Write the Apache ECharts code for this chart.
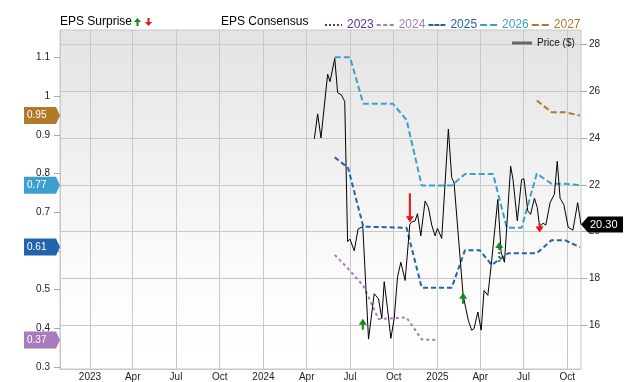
<!DOCTYPE html>
<html>
<head>
<meta charset="utf-8">
<script src="https://cdn.jsdelivr.net/npm/echarts@6/dist/echarts.min.js"></script>
<style>html,body{margin:0;padding:0;background:#fff}#c{width:640px;height:382px}</style>
</head>
<body>
<div id="c"></div>
<script>
// ---------------- data ----------------
const xTickDates = ['2023-01-01','2023-04-01','2023-07-01','2023-10-01','2024-01-01','2024-04-01','2024-07-01','2024-10-01','2025-01-01','2025-04-01','2025-07-01','2025-10-01'];
const xTickLabels = ['2023','Apr','Jul','Oct','2024','Apr','Jul','Oct','2025','Apr','Jul','Oct'];
const leftTicks = [0.3,0.4,0.5,0.6,0.7,0.8,0.9,1.0,1.1];
const rightTicks = [16,18,20,22,24,26,28];

const priceDates = ['2024-04-17','2024-04-24','2024-05-01','2024-05-15','2024-05-20','2024-05-30','2024-06-05','2024-06-13','2024-06-20','2024-06-26',
  '2024-07-01','2024-07-10','2024-07-18','2024-07-28','2024-08-09','2024-08-21','2024-08-30','2024-09-06','2024-09-11','2024-09-18',
  '2024-09-25','2024-10-02','2024-10-09','2024-10-16','2024-10-25','2024-11-04','2024-11-08','2024-11-15','2024-11-20','2024-11-27',
  '2024-12-06','2024-12-13','2024-12-20','2024-12-27','2025-01-01','2025-01-10','2025-01-24','2025-01-31','2025-02-05','2025-02-24',
  '2025-03-07','2025-03-14','2025-03-19','2025-03-27','2025-04-03','2025-04-09','2025-04-17','2025-04-24','2025-05-08','2025-05-15',
  '2025-05-22','2025-06-04','2025-06-09','2025-06-18','2025-06-27','2025-07-02','2025-07-10','2025-07-16','2025-07-24','2025-07-30',
  '2025-08-04','2025-08-11','2025-08-17','2025-08-26','2025-09-04','2025-09-10','2025-09-16','2025-09-24','2025-10-03','2025-10-13',
  '2025-10-23','2025-10-30'];
const priceValues = [23.97,25.04,24.01,26.74,26.42,27.41,25.95,25.85,25.57,19.57,
  19.68,19.18,20.11,20.22,15.40,17.34,17.13,16.28,17.86,16.70,
  15.43,16.28,18.05,18.69,17.91,20.32,20.42,20.46,20.77,19.82,
  21.31,21.03,20.28,19.82,20.14,19.71,24.39,22.31,22.09,17.27,
  16.20,15.78,15.85,16.56,15.78,17.48,17.27,18.54,21.38,19.11,
  18.69,22.80,22.23,20.46,22.23,22.26,20.89,20.74,21.43,21.03,
  20.19,20.36,20.28,21.24,21.60,23.01,21.43,21.15,20.19,20.06,
  21.24,20.30];

const years = ['2023','2024','2025','2026','2027'];
const c2023Dates = [];
const c2023Values = [];
const c2024Dates = ['2024-05-30','2024-06-28','2024-07-29','2024-08-30','2024-09-30','2024-10-28','2024-11-29','2024-12-30'];
const c2024Values = [0.59,0.553,0.51,0.424,0.426,0.428,0.371,0.37];
const c2025Dates = ['2024-05-30','2024-06-27','2024-07-29','2024-10-28','2024-11-29','2025-01-31','2025-02-28','2025-03-31','2025-04-25','2025-05-30','2025-07-29','2025-08-29','2025-09-26','2025-10-28'];
const c2025Values = [0.842,0.815,0.663,0.66,0.505,0.505,0.602,0.602,0.564,0.594,0.594,0.628,0.628,0.61];
const c2026Dates = ['2024-05-30','2024-07-01','2024-07-29','2024-09-29','2024-10-28','2024-11-29','2025-01-31','2025-02-28','2025-04-28','2025-05-27','2025-06-27','2025-07-29','2025-08-29','2025-09-26','2025-10-28'];
const c2026Values = [1.101,1.101,0.981,0.981,0.939,0.769,0.769,0.799,0.799,0.66,0.66,0.80,0.774,0.774,0.77];
const c2027Dates = ['2025-07-29','2025-08-29','2025-09-26','2025-10-28'];
const c2027Values = [0.989,0.959,0.959,0.95];

const surpriseDates = ['2024-07-28','2024-11-04','2025-02-24','2025-05-11','2025-08-04'];
const surprisePrice = [16.04,21.02,17.15,19.13,20.15];
const surpriseDir = ['up','down','up','up','down'];

// ---------------- styles ----------------
const FONT = '"Liberation Sans", Arial, sans-serif';
const yearColors = {'2023':'#5e3486','2024':'#a77bbd','2025':'#2263ae','2026':'#3c9fcd','2027':'#b07a2a'};
const yearDash = {'2023':[2,2],'2024':[3,3],'2025':[5,3],'2026':[6,3],'2027':[6,3]};
const yearIcon = {
  '2023': 'path://M0,0h2v2h-2Z M4,0h2v2h-2Z M8,0h2v2h-2Z M12,0h2v2h-2Z M16,0h1v2h-1Z',
  '2024': 'path://M0,0h4v2h-4Z M6.5,0h4v2h-4Z M13,0h4v2h-4Z',
  '2025': 'path://M0,0h5v2h-5Z M6,0h5v2h-5Z M12,0h5v2h-5Z',
  '2026': 'path://M0,0h7v2h-7Z M10,0h7v2h-7Z',
  '2027': 'path://M0,0h7v2h-7Z M10,0h7v2h-7Z'
};
const arrowLen = [11,29,11,20,9];
const arrowDashed = [false,false,false,true,false];

const ts = s => { const p = s.split('-').map(Number); return new Date(p[0], p[1]-1, p[2]).getTime(); };
const zip = (d, v) => d.map((x, i) => [ts(x), v[i]]);
const xTickTs = xTickDates.map(ts);
const labelFor = v => { let best = 0, bd = Infinity; xTickTs.forEach((t, i) => { const dd = Math.abs(t - v); if (dd < bd) { bd = dd; best = i; } }); return bd < 86400000 ? xTickLabels[best] : ''; };
const xMin = ts('2022-10-30'), xMax = ts('2025-10-30');

const consensus = {
  '2023': zip(c2023Dates, c2023Values), '2024': zip(c2024Dates, c2024Values),
  '2025': zip(c2025Dates, c2025Values), '2026': zip(c2026Dates, c2026Values),
  '2027': zip(c2027Dates, c2027Values)
};

function arrowPath(h, up, dashed) {
  if (up) {
    let p = `path://M4,0 L8,6 L5,6 L5,${dashed ? 8 : h} L3,${dashed ? 8 : h} L3,6 L0,6 Z`;
    if (dashed) { for (let y = 10; y < h; y += 4) p += ` M3,${y} h2 v${Math.min(2, h - y)} h-2 Z`; }
    return p;
  }
  return `path://M3,0 L5,0 L5,${h-6} L8,${h-6} L4,${h} L0,${h-6} L3,${h-6} Z`;
}

const series = [];
series.push({
  name: 'Price ($)', type: 'line', yAxisIndex: 1, symbol: 'none', z: 3,
  lineStyle: {color: '#000', width: 1}, itemStyle: {color: '#000'},
  data: zip(priceDates, priceValues)
});
years.forEach(y => {
  series.push({
    name: y, type: 'line', yAxisIndex: 0, symbol: 'none', z: 2,
    lineStyle: {color: yearColors[y], width: 2, type: yearDash[y]},
    itemStyle: {color: yearColors[y]},
    data: consensus[y]
  });
});
series.push({
  name: 'surprise', type: 'scatter', yAxisIndex: 1, z: 5, clip: false,
  data: surpriseDates.map((d, i) => ({
    value: [ts(d), surprisePrice[i]],
    symbol: arrowPath(arrowLen[i], surpriseDir[i] === 'up', arrowDashed[i]),
    symbolSize: [8, arrowLen[i]],
    itemStyle: {color: surpriseDir[i] === 'up' ? '#14861a' : '#f01010', opacity: 1}
  }))
});
const tagYears = ['2027','2026','2025','2024'];
series.push({
  name: 'tags', type: 'scatter', yAxisIndex: 0, z: 10, clip: false,
  symbol: 'path://M0,0 L32,0 L36,8.5 L32,17 L0,17 Z', symbolSize: [36, 17], symbolOffset: [-18, 0],
  label: {show: true, position: 'insideLeft', distance: 3, color: '#fff', fontSize: 10, fontFamily: FONT,
    formatter: p => p.value[1].toFixed(2)},
  data: tagYears.map(y => {
    const arr = consensus[y];
    return {value: [xMin, arr[arr.length-1][1]], itemStyle: {color: yearColors[y], opacity: 1}};
  })
});
series.push({
  name: 'pricetag', type: 'scatter', yAxisIndex: 1, z: 10, clip: false,
  symbol: 'path://M0,8 L7,0 L42,0 L42,16 L7,16 Z', symbolSize: [42, 16], symbolOffset: [21, 0],
  label: {show: true, position: 'insideLeft', distance: 9, color: '#fff', fontSize: 11, fontFamily: FONT,
    formatter: p => p.value[1].toFixed(2)},
  itemStyle: {color: '#000', opacity: 1},
  data: [[ts(priceDates[priceDates.length-1]), priceValues[priceValues.length-1]]]
});

const chart = echarts.init(document.getElementById('c'), null, {renderer: 'canvas'});
chart.setOption({
  animation: false,
  textStyle: {fontFamily: FONT},
  grid: {left: 60, right: 59, top: 30, bottom: 12, show: true, borderColor: '#c8c8c8', borderWidth: 1,
    backgroundColor: new echarts.graphic.LinearGradient(0, 0, 0, 1, [
      {offset: 0, color: '#e3e3e3'}, {offset: 0.7, color: '#fbfbfb'}, {offset: 1, color: '#ffffff'}])},
  legend: [
    {data: years.map(y => ({name: y, icon: yearIcon[y], textStyle: {color: yearColors[y]}})), left: 320, top: 14,
      itemWidth: 17, itemHeight: 2, itemGap: 3, selectedMode: false, symbolKeepAspect: false,
      textStyle: {fontSize: 12, fontFamily: FONT}},
    {data: [{name: 'Price ($)', icon: 'path://M0,0h20v3h-20Z', itemStyle: {color: '#666'}}], left: 507, top: 33,
      itemWidth: 20, itemHeight: 3, selectedMode: false, symbolKeepAspect: false,
      textStyle: {fontSize: 10, color: '#111', fontFamily: FONT}}
  ],
  graphic: [
    {type: 'text', left: 60, top: 16, style: {text: 'EPS Surprise', font: '12px ' + FONT, fill: '#000'}},
    {type: 'polygon', shape: {points: [[137.5,18],[141,22],[138.5,22],[138.5,26],[136.5,26],[136.5,22],[134,22]]}, style: {fill: '#14861a'}},
    {type: 'polygon', shape: {points: [[147.5,18],[149.5,18],[149.5,22],[152,22],[148.5,26],[145,22],[147.5,22]]}, style: {fill: '#f01010'}},
    {type: 'text', left: 221, top: 16, style: {text: 'EPS Consensus', font: '12px ' + FONT, fill: '#000'}}
  ],
  xAxis: {
    type: 'value', min: xMin, max: xMax,
    axisLine: {show: true, lineStyle: {color: '#c8c8c8'}},
    axisTick: {show: false, customValues: xTickTs},
    axisLabel: {customValues: xTickTs, formatter: v => labelFor(v), fontSize: 10, color: '#222', margin: 3, hideOverlap: false},
    splitLine: {show: true, lineStyle: {color: '#c8c8c8', width: 1}}
  },
  yAxis: [
    {type: 'value', position: 'left', min: 0.2948, max: 1.1714,
      axisLine: {show: true, lineStyle: {color: '#c8c8c8'}},
      axisTick: {show: true, length: 6, customValues: leftTicks, lineStyle: {color: '#aaa'}},
      axisLabel: {customValues: leftTicks, fontSize: 10, color: '#222', margin: 10,
        formatter: v => String(Math.round(v * 100) / 100)},
      splitLine: {show: false}},
    {type: 'value', position: 'right', min: 14.12, max: 28.63,
      axisLine: {show: false},
      axisTick: {show: true, length: 6, customValues: rightTicks, lineStyle: {color: '#aaa'}},
      axisLabel: {customValues: rightTicks, fontSize: 10, color: '#222', margin: 8},
      splitLine: {show: true, lineStyle: {color: '#c8c8c8', width: 1}}}
  ],
  series: series
});
</script>
</body>
</html>
